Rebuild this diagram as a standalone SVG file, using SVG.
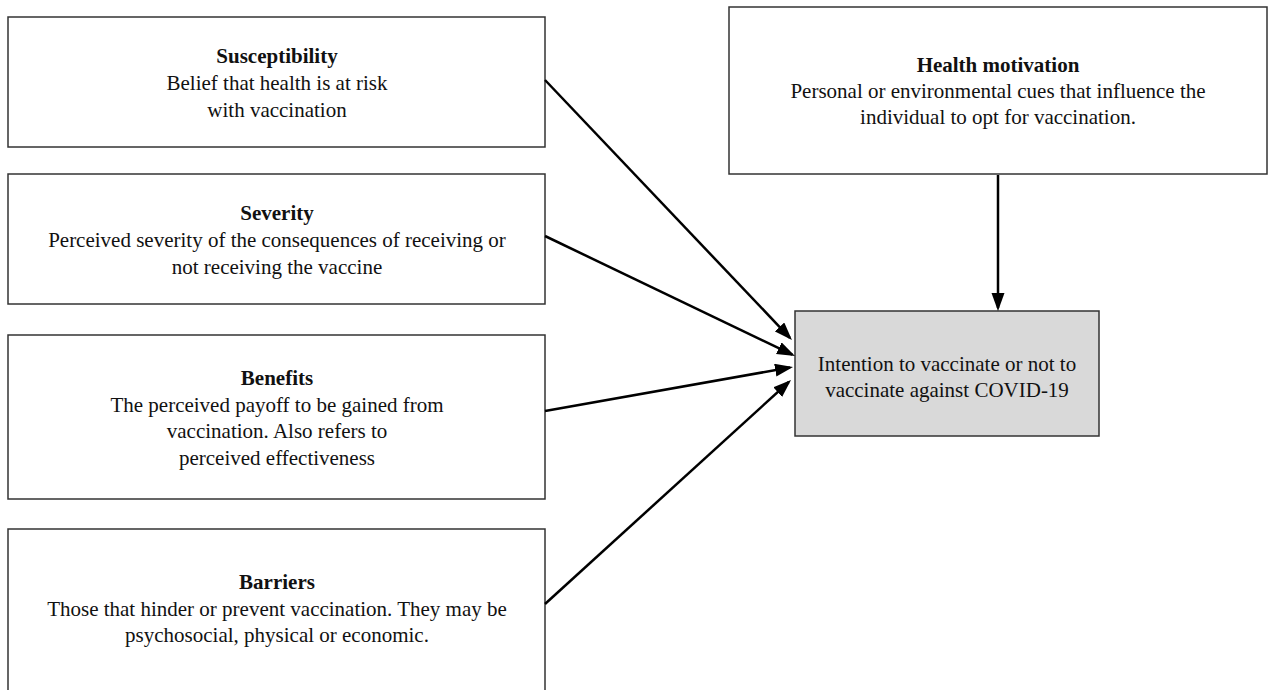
<svg xmlns="http://www.w3.org/2000/svg" width="1268" height="690" viewBox="0 0 1268 690">
<style>
.box{fill:#ffffff;stroke:#333333;stroke-width:1.5}
.target{fill:#d9d9d9;stroke:#333333;stroke-width:1.5}
.t{font-family:"Liberation Serif","Times New Roman",serif;font-size:21px;fill:#111111;text-anchor:middle}
.b{font-weight:bold}
.conn{stroke:#000000;stroke-width:2.5;fill:none;marker-end:url(#arr)}
</style>
<defs>
<marker id="arr" markerUnits="userSpaceOnUse" markerWidth="20" markerHeight="14" refX="15" refY="6.5" orient="auto">
<path d="M0,0 L18,6.5 L0,13 z" fill="#000000"/>
</marker>
</defs>
<rect width="1268" height="690" fill="#ffffff"/>
<g id="susceptibility">
<rect class="box" x="8" y="17" width="537" height="130"/>
<text class="t b" x="277" y="63">Susceptibility</text>
<text class="t" x="277" y="90">Belief that health is at risk</text>
<text class="t" x="277" y="117">with vaccination</text>
</g>
<g id="severity">
<rect class="box" x="8" y="174" width="537" height="130"/>
<text class="t b" x="277" y="220">Severity</text>
<text class="t" x="277" y="247">Perceived severity of the consequences of receiving or</text>
<text class="t" x="277" y="274">not receiving the vaccine</text>
</g>
<g id="benefits">
<rect class="box" x="8" y="335" width="537" height="164"/>
<text class="t b" x="277" y="385">Benefits</text>
<text class="t" x="277" y="411.5">The perceived payoff to be gained from</text>
<text class="t" x="277" y="438">vaccination. Also refers to</text>
<text class="t" x="277" y="464.5">perceived effectiveness</text>
</g>
<g id="barriers">
<rect class="box" x="8" y="529" width="537" height="175"/>
<text class="t b" x="277" y="589">Barriers</text>
<text class="t" x="277" y="616">Those that hinder or prevent vaccination. They may be</text>
<text class="t" x="277" y="642">psychosocial, physical or economic.</text>
</g>
<g id="health-motivation">
<rect class="box" x="729" y="7" width="538" height="167"/>
<text class="t b" x="998" y="72">Health motivation</text>
<text class="t" x="998" y="98">Personal or environmental cues that influence the</text>
<text class="t" x="998" y="124">individual to opt for vaccination.</text>
</g>
<g id="intention">
<rect class="target" x="795" y="311" width="304" height="125"/>
<text class="t" x="947" y="371">Intention to vaccinate or not to</text>
<text class="t" x="947" y="397">vaccinate against COVID-19</text>
</g>
<g id="connectors">
<line class="conn" x1="545" y1="80" x2="789.9" y2="337.8"/>
<line class="conn" x1="545" y1="236" x2="792.3" y2="354.7"/>
<line class="conn" x1="545" y1="411" x2="790.05" y2="367.5"/>
<line class="conn" x1="545" y1="604" x2="788.8" y2="382"/>
<line class="conn" x1="998" y1="175" x2="998" y2="308"/>
</g>
</svg>
